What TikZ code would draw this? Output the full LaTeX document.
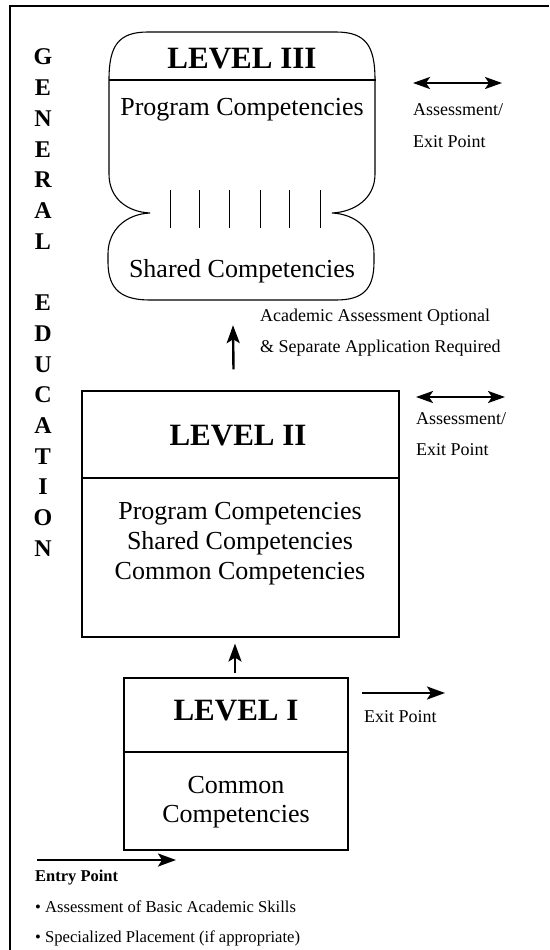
\documentclass[tikz,border=0pt]{standalone}
\usepackage{fontspec}
\setmainfont{Liberation Serif}
\usetikzlibrary{arrows.meta}

\tikzset{
  box/.style={draw, line width=1.1pt},
  hdr/.style={font=\fontsize{31}{31}\selectfont\bfseries, anchor=base},
  comp/.style={font=\fontsize{26}{30}\selectfont, align=center},
  side/.style={font=\fontsize{18}{18}\selectfont, anchor=base west, inner xsep=0pt},
  note/.style={font=\fontsize{16.6}{16.6}\selectfont, anchor=base west, inner xsep=0pt},
  ltr/.style={font=\fontsize{24}{24}\selectfont\bfseries, anchor=base},
  arr/.style={-{Stealth[length=18pt, width=13pt, inset=4pt]}, line width=2.4pt},
  dblarr/.style={{Stealth[length=17pt, width=12pt, inset=4pt]}-{Stealth[length=17pt, width=12pt, inset=4pt]}, line width=2.4pt}
}

\begin{document}
\begin{tikzpicture}[x=1pt, y=-1pt]
\useasboundingbox (0,0) rectangle (549,950);

% frame
\draw[line width=1.3pt] (549,6) -- (10,6) -- (10,950);

% GENERAL EDUCATION
\foreach \l [count=\i from 0] in {G,E,N,E,R,A,L, ,E,D,U,C,A,T,I,O,N}
  \node[ltr] (gen\i) at (43,65+30.7*\i) {\l};

% Level III
\node[minimum width=266pt, minimum height=268pt] (lvl3) at (242,166) {};
\draw[box] (109,80) -- (109,174) .. controls (109,199) and (128,212) .. (150,213)
  .. controls (126,214) and (108,230) .. (108,254) -- (108,262)
  .. controls (108,290) and (122,300) .. (150,300) -- (336,300)
  .. controls (362,300) and (374,290) .. (374,262) -- (374,254)
  .. controls (374,230) and (356,214) .. (332,213)
  .. controls (354,212) and (375,199) .. (375,174) -- (375,80)
  .. controls (375,46) and (366,32) .. (336,32) -- (148,32)
  .. controls (118,32) and (109,46) .. (109,80) -- cycle;
\draw[box] (109,80) -- (376,80);
\foreach \x in {170,199,229,260,289,320}
  \draw[line width=0.9pt] (\x,190) -- (\x,228);
\node[hdr] (t3) at (242,68) {LEVEL III};
\node[comp, anchor=base] (p3) at (242,115) {Program Competencies};
\node[comp, anchor=base] (s3) at (242,277) {Shared Competencies};

\coordinate (a3l) at (413,83);
\coordinate (a3r) at (502,83);
\draw[dblarr] (a3l) -- (a3r);
\node[side] (e3a) at (413,115) {Assessment/};
\node[side] (e3b) at (413,147) {Exit Point};

% Level II
\node[box, minimum width=317pt, minimum height=246pt] (lvl2) at (240.5,514) {};
\draw[box] (lvl2.west |- 0,478) -- (lvl2.east |- 0,478);
\node[hdr] (t2) at (238,445) {LEVEL II};
\node[comp] (c2) at (240,544) {Program Competencies\\Shared Competencies\\Common Competencies};

\draw[arr] ([xshift=-7pt, yshift=21pt]lvl2.north) -- ([xshift=-9pt, yshift=-25pt]lvl3.south);
\node[side] (aa1) at (260,321) {Academic Assessment Optional};
\node[side] (aa2) at (260,352) {\& Separate Application Required};

\coordinate (a2l) at (416,397);
\coordinate (a2r) at (505,397);
\draw[dblarr] (a2l) -- (a2r);
\node[side] (e2a) at (416,424) {Assessment/};
\node[side] (e2b) at (416,455) {Exit Point};

% Level I
\node[box, minimum width=224pt, minimum height=172pt] (lvl1) at (236,764) {};
\draw[box] (lvl1.west |- 0,752) -- (lvl1.east |- 0,752);
\node[hdr] (t1) at (236,720) {LEVEL I};
\node[comp, anchor=base] (c1a) at (236,793) {Common};
\node[comp, anchor=base] (c1b) at (236,822) {Competencies};

\draw[arr] ([xshift=-1pt, yshift=4pt]lvl1.north) -- ([xshift=-5.5pt, yshift=-6pt]lvl2.south);

\coordinate (x1l) at (362,693);
\coordinate (x1r) at (445,693);
\draw[arr] (x1l) -- (x1r);
\node[side] (e1) at (364,722) {Exit Point};

% Entry point
\coordinate (enl) at (37,860);
\coordinate (enr) at (176,860);
\draw[arr] (enl) -- (enr);
\node[note, font=\fontsize{16.5}{16.5}\selectfont\bfseries] (ent) at (35,881) {Entry Point};
\node[note] (b1) at (35,912) {\textbullet\ Assessment of Basic Academic Skills};
\node[note] (b2) at (35,942) {\textbullet\ Specialized Placement (if appropriate)};

\end{tikzpicture}
\end{document}
